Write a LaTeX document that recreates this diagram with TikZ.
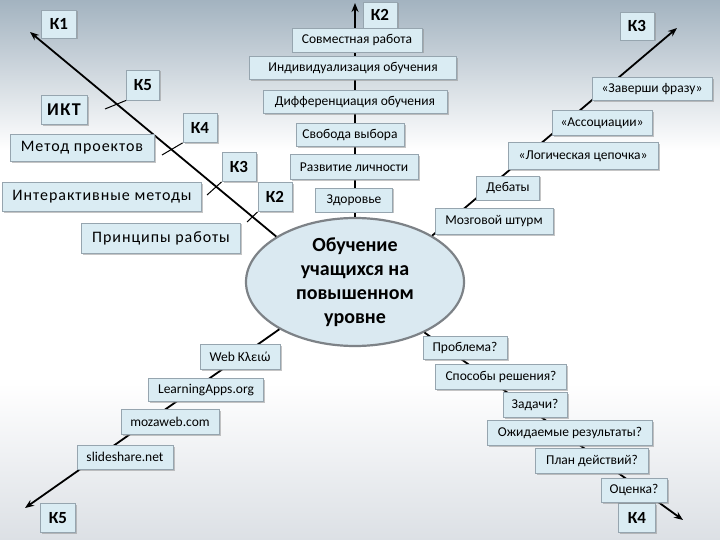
\documentclass[tikz,border=0pt]{standalone}
\usepackage{fontspec}
\setmainfont{Carlito}
\usetikzlibrary{shapes.geometric,shadows,arrows.meta}
\definecolor{boxfill}{RGB}{218,236,243}
\definecolor{boxline}{RGB}{150,165,175}
\definecolor{ellfill}{RGB}{218,233,241}
\definecolor{ellline}{RGB}{125,130,135}
\definecolor{bgtop}{RGB}{163,179,192}
\definecolor{bgbot}{RGB}{220,224,229}
\tikzset{
  card/.style={draw=boxline, fill=boxfill, line width=0.8pt, inner sep=0pt,
    font=\fontsize{13.5}{15}\selectfont,
    drop shadow={shadow xshift=1.5pt, shadow yshift=-1.5pt, fill=black!45, opacity=0.5}},
  kbox/.style={card, font=\fontsize{17}{19}\selectfont\bfseries},
  bigcard/.style={card, font=\fontsize{16}{18}\selectfont\addfontfeatures{LetterSpace=6}},
  axis/.style={line width=1.8pt, -{Stealth[length=9pt,width=7pt]}},
  tick/.style={line width=1pt},
}
\begin{document}
\begin{tikzpicture}[x=1pt,y=-1pt]
\useasboundingbox (0,0) rectangle (720,540);
% background
\shade[top color=bgtop, bottom color=white] (0,0) rectangle (720,150);
\fill[white] (0,150) rectangle (720,383);
\shade[top color=white, bottom color=bgbot] (0,383) rectangle (720,540);

% centre
\node[ellipse, draw=ellline, line width=2.2pt, fill=ellfill, minimum width=218pt,
  minimum height=128pt, inner sep=0pt, align=center,
  font=\fontsize{20}{24}\selectfont\bfseries] (ell) at (355,282)
  {Обучение\\учащихся на\\повышенном\\уровне};

% axis end points
\coordinate (tipUp) at (355,3);
\coordinate (tipUL) at (30,32);
\coordinate (tipUR) at (677,28);
\coordinate (tipDL) at (25,508);
\coordinate (tipDR) at (683,520);

\draw[axis] (ell.north) -- (tipUp);
\draw[axis] (ell.150) -- (tipUL);
\draw[axis] (ell.31) -- (tipUR);
\draw[axis] (ell.212) -- (tipDL);
\draw[axis] (ell.-36) -- (tipDR);

% K labels
\node[kbox, minimum width=35pt, minimum height=28pt] (k1) at (59,24) {К1};
\node[kbox, minimum width=34pt, minimum height=26pt] (k2t) at (380,15) {К2};
\node[kbox, minimum width=34pt, minimum height=28pt] (k3t) at (637,26) {К3};
\node[kbox, minimum width=33pt, minimum height=30pt] (k5t) at (143,85) {К5};
\node[kbox, minimum width=34pt, minimum height=29pt] (k4l) at (200,128) {К4};
\node[kbox, minimum width=34pt, minimum height=29pt] (k3l) at (239,167) {К3};
\node[kbox, minimum width=34pt, minimum height=29pt] (k2l) at (275,197) {К2};
\node[kbox, minimum width=35pt, minimum height=29pt] (k5b) at (58,518) {К5};
\node[kbox, minimum width=37pt, minimum height=29pt] (k4b) at (637,518) {К4};

% ticks on the left axis
\coordinate (t5) at (105,109);
\coordinate (t4) at (162,155);
\coordinate (t3) at (207,195);
\coordinate (t2) at (247,222);
\draw[tick] (k5t.south west) -- (t5);
\draw[tick] (k4l.south west) -- (t4);
\draw[tick] (k3l.south west) -- (t3);
\draw[tick] (k2l.south west) -- (t2);

% left group
\node[kbox, minimum width=46pt, minimum height=29pt,
  font=\fontsize{18}{20}\selectfont\bfseries\addfontfeatures{LetterSpace=8}] (ikt) at (64,110) {ИКТ};
\node[bigcard, minimum width=144pt, minimum height=27pt] (metod) at (82,148) {Метод проектов};
\node[bigcard, minimum width=199pt, minimum height=29pt] (inter) at (102,197) {Интерактивные методы};
\node[bigcard, minimum width=159pt, minimum height=30pt] (princ) at (161,238) {Принципы работы};

% vertical axis
\node[card, minimum width=130pt, minimum height=24pt] (sovm) at (357,40) {Совместная работа};
\node[card, minimum width=207pt, minimum height=23pt] (indiv) at (353,68) {Индивидуализация обучения};
\node[card, minimum width=184pt, minimum height=23pt] (diff) at (355,102) {Дифференциация обучения};
\node[card, minimum width=108pt, minimum height=23pt] (svob) at (350,135) {Свобода выбора};
\node[card, minimum width=128pt, minimum height=25pt] (razv) at (354,167) {Развитие личности};
\node[card, minimum width=77pt, minimum height=24pt] (zdor) at (354,200) {Здоровье};

% upper right axis
\node[card, minimum width=120pt, minimum height=23pt] (zav) at (652,89) {«Заверши фразу»};
\node[card, minimum width=100pt, minimum height=25pt] (assoc) at (602,123) {«Ассоциации»};
\node[card, minimum width=150pt, minimum height=27pt] (logic) at (583,156) {«Логическая цепочка»};
\node[card, minimum width=63pt, minimum height=24pt] (debaty) at (508,188) {Дебаты};
\node[card, minimum width=118pt, minimum height=26pt] (mozg) at (494,221) {Мозговой штурм};

% lower left axis
\node[card, minimum width=80pt, minimum height=25pt] (web) at (240,357) {Web Κλειώ};
\node[card, minimum width=115pt, minimum height=23pt] (learn) at (206,390) {LearningApps.org};
\node[card, minimum width=98pt, minimum height=25pt] (moza) at (170,422) {mozaweb.com};
\node[card, minimum width=96pt, minimum height=24pt] (slide) at (125,457) {slideshare.net};

% lower right axis
\node[card, minimum width=84pt, minimum height=23pt] (probl) at (465,348) {Проблема?};
\node[card, minimum width=131pt, minimum height=25pt] (sposob) at (501,377) {Способы решения?};
\node[card, minimum width=64pt, minimum height=25pt] (zad) at (535,405) {Задачи?};
\node[card, minimum width=165pt, minimum height=25pt] (ozhid) at (570,433) {Ожидаемые результаты?};
\node[card, minimum width=113pt, minimum height=25pt] (plan) at (592,461) {План действий?};
\node[card, minimum width=66pt, minimum height=24pt] (ocen) at (634,490) {Оценка?};
\end{tikzpicture}
\end{document}
